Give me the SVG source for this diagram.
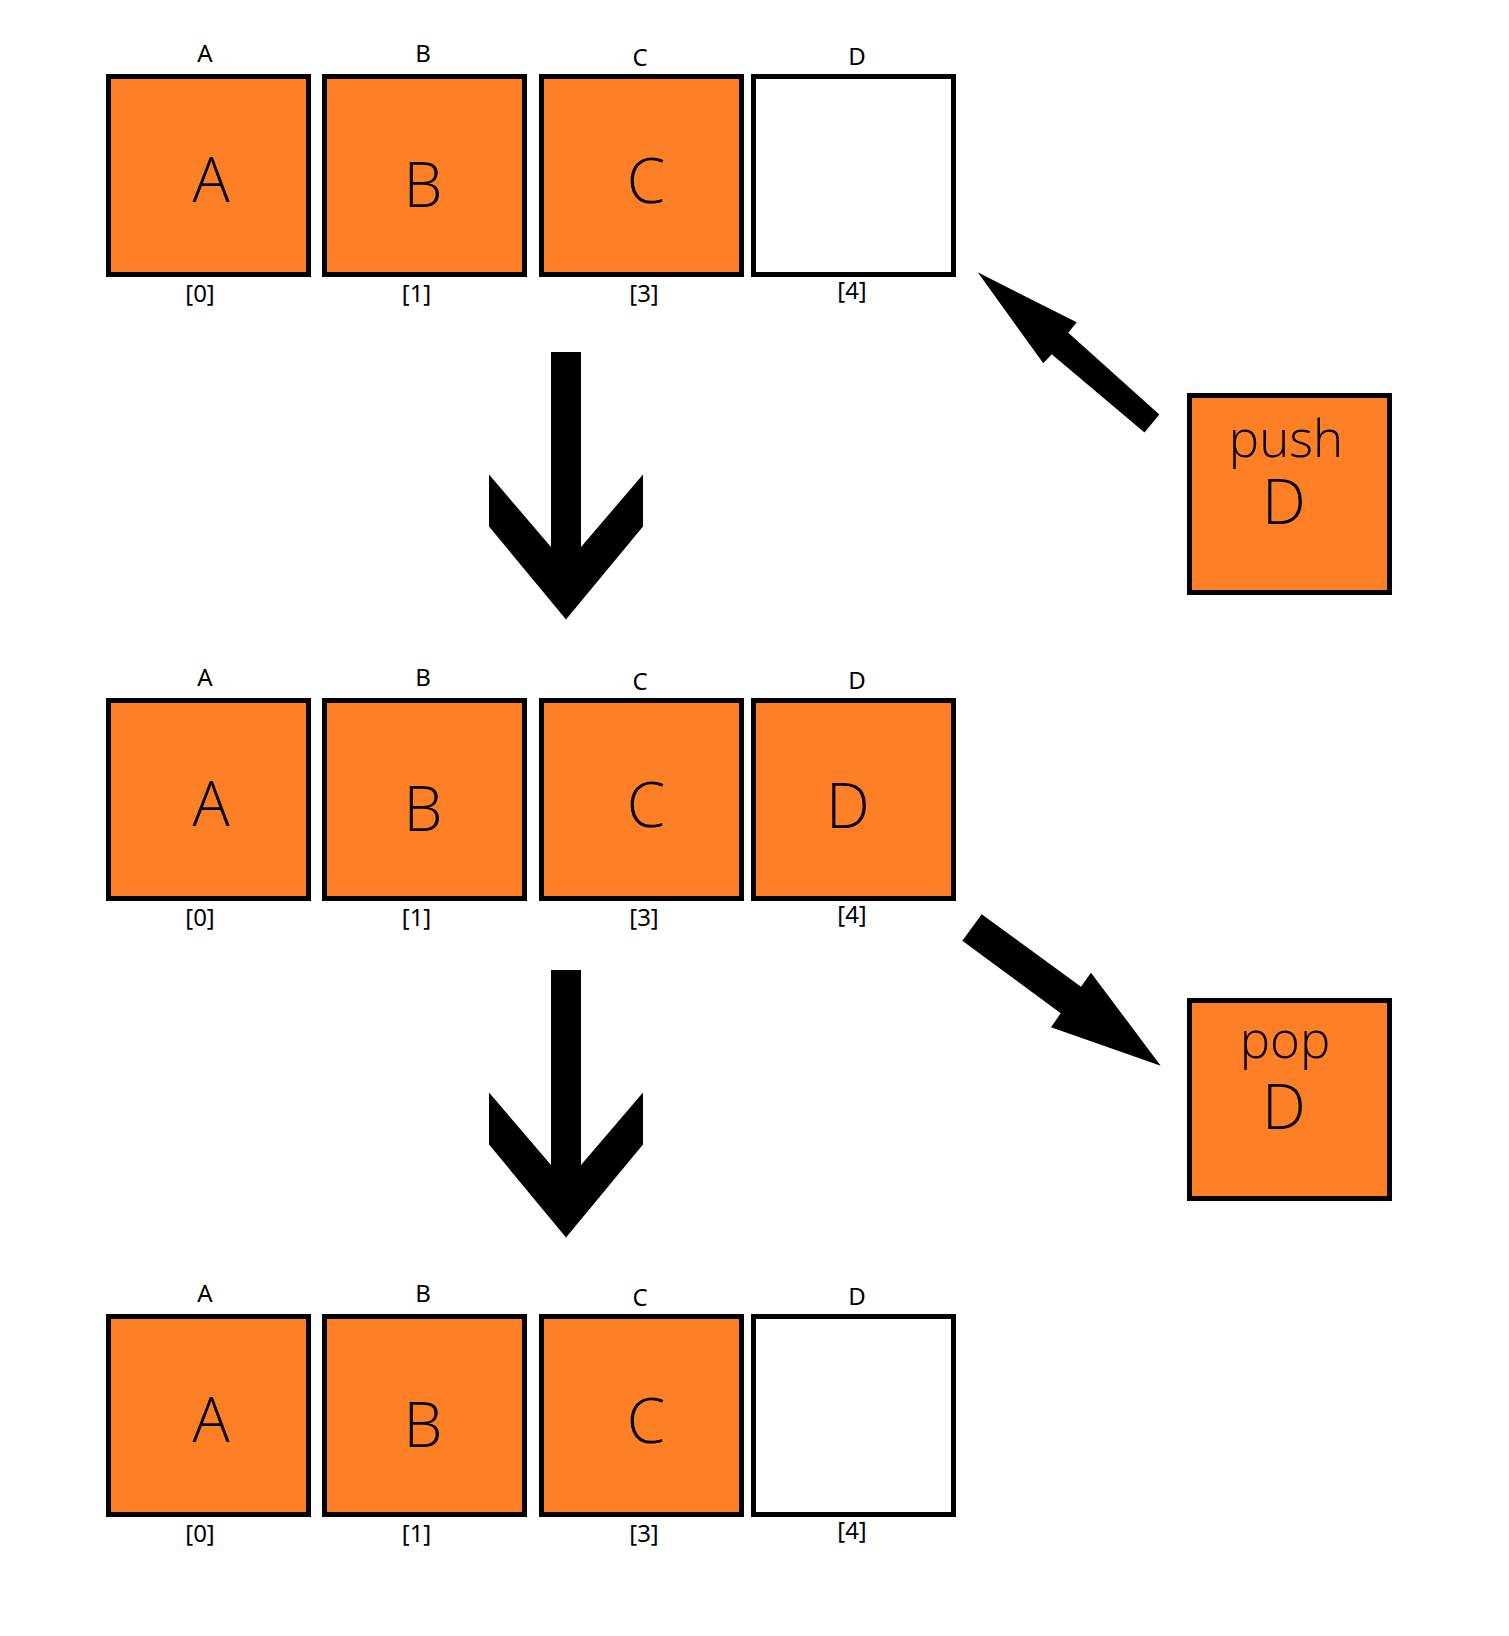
<svg xmlns="http://www.w3.org/2000/svg" width="1509" height="1636" viewBox="0 0 1509 1636">
<style>
.box{stroke:#000;stroke-width:5}
.full{fill:#FF7F27}
.empty{fill:#fff}
.big{font-family:"Open Sans","Noto Sans","Liberation Sans",sans-serif;font-weight:300;font-size:62px;fill:#000;text-anchor:middle}
.mid{font-family:"Open Sans","Noto Sans","Liberation Sans",sans-serif;font-weight:300;font-size:51px;fill:#000;text-anchor:middle}
.lbl{font-family:"Noto Sans","Open Sans","Liberation Sans",sans-serif;font-size:24px;fill:#000;text-anchor:middle}
.arrow{fill:#000}
</style>
<rect width="1509" height="1636" fill="#fff"/>

<g id="row1">
  <g id="r1-A"><rect class="box full" x="108.5" y="76.5" width="200" height="198"/><text class="lbl" x="205" y="62">A</text><text class="big" x="211" y="202">A</text><text class="lbl" x="200" y="302">[0]</text></g>
  <g id="r1-B"><rect class="box full" x="324.5" y="76.5" width="200" height="198"/><text class="lbl" x="423" y="62">B</text><text class="big" x="423" y="207">B</text><text class="lbl" x="416.5" y="302">[1]</text></g>
  <g id="r1-C"><rect class="box full" x="541.5" y="76.5" width="200" height="198"/><text class="lbl" x="640" y="65.5">C</text><text class="big" x="646" y="203">C</text><text class="lbl" x="644" y="302">[3]</text></g>
  <g id="r1-D"><rect class="box empty" x="753.5" y="76.5" width="200" height="198"/><text class="lbl" x="857" y="65">D</text><text class="lbl" x="852" y="299">[4]</text></g>
</g>

<g id="row2" transform="translate(0,624)">
  <g id="r2-A"><rect class="box full" x="108.5" y="76.5" width="200" height="198"/><text class="lbl" x="205" y="62">A</text><text class="big" x="211" y="202">A</text><text class="lbl" x="200" y="302">[0]</text></g>
  <g id="r2-B"><rect class="box full" x="324.5" y="76.5" width="200" height="198"/><text class="lbl" x="423" y="62">B</text><text class="big" x="423" y="207">B</text><text class="lbl" x="416.5" y="302">[1]</text></g>
  <g id="r2-C"><rect class="box full" x="541.5" y="76.5" width="200" height="198"/><text class="lbl" x="640" y="65.5">C</text><text class="big" x="646" y="203">C</text><text class="lbl" x="644" y="302">[3]</text></g>
  <g id="r2-D"><rect class="box full" x="753.5" y="76.5" width="200" height="198"/><text class="lbl" x="857" y="65">D</text><text class="big" x="848" y="203.5">D</text><text class="lbl" x="852" y="299">[4]</text></g>
</g>

<g id="row3" transform="translate(0,1240)">
  <g id="r3-A"><rect class="box full" x="108.5" y="76.5" width="200" height="198"/><text class="lbl" x="205" y="62">A</text><text class="big" x="211" y="202">A</text><text class="lbl" x="200" y="302">[0]</text></g>
  <g id="r3-B"><rect class="box full" x="324.5" y="76.5" width="200" height="198"/><text class="lbl" x="423" y="62">B</text><text class="big" x="423" y="207">B</text><text class="lbl" x="416.5" y="302">[1]</text></g>
  <g id="r3-C"><rect class="box full" x="541.5" y="76.5" width="200" height="198"/><text class="lbl" x="640" y="65.5">C</text><text class="big" x="646" y="203">C</text><text class="lbl" x="644" y="302">[3]</text></g>
  <g id="r3-D"><rect class="box empty" x="753.5" y="76.5" width="200" height="198"/><text class="lbl" x="857" y="65">D</text><text class="lbl" x="852" y="299">[4]</text></g>
</g>

<g id="push-D"><rect class="box full" x="1189.5" y="395.5" width="200" height="197"/><text class="mid" x="1286" y="456.5">push</text><text class="big" x="1284" y="524">D</text></g>
<g id="pop-D"><rect class="box full" x="1189.5" y="1000.5" width="200" height="198"/><text class="mid" x="1285" y="1058">pop</text><text class="big" x="1284" y="1128.5">D</text></g>

<g id="connectors">
  <polygon class="arrow" points="551,352 581,352 581,547 643,474.5 643,526.5 566,619.5 489,526.5 489,474.5 551,547"/>
  <polygon class="arrow" points="551,970 581,970 581,1165 643,1092.5 643,1144.5 566,1237.5 489,1144.5 489,1092.5 551,1165"/>
  <polygon class="arrow" points="977.7,272.3 1076.7,322.3 1068.3,332.7 1159.3,414.5 1144.5,432.5 1051.7,354.3 1043.3,363.3"/>
  <polygon class="arrow" points="981.7,914.3 1081,986.7 1091,972.7 1160.7,1065.7 1051,1027.3 1060.7,1013.3 962.3,940.7"/>
</g>
</svg>
